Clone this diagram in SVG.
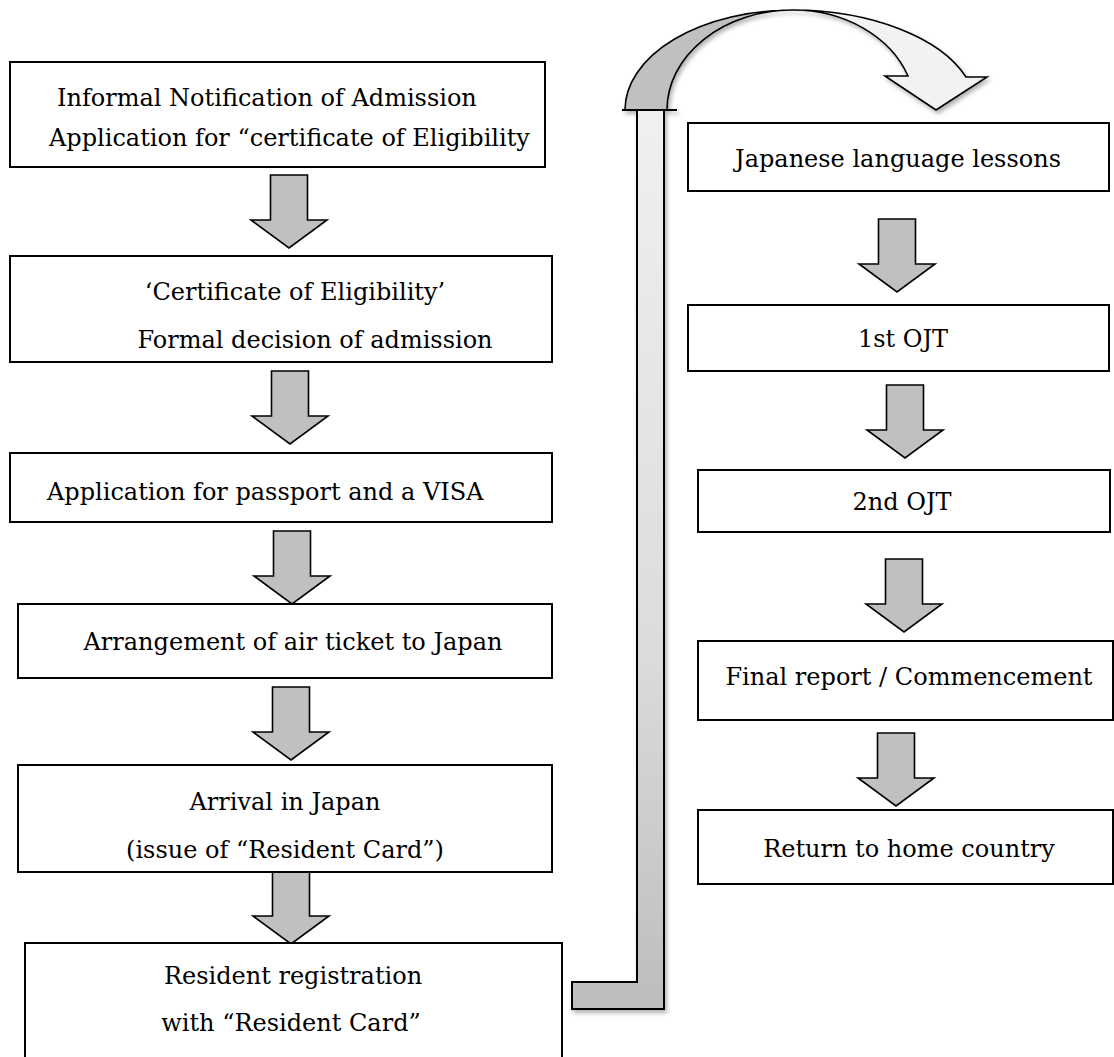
<svg xmlns="http://www.w3.org/2000/svg" width="1114" height="1057" viewBox="0 0 1114 1057">
<style>
.box{fill:#fff;stroke:#000;stroke-width:2}
.t{font-family:"DejaVu Serif","Liberation Serif",serif;font-size:24px;fill:#000}
.c{text-anchor:middle}
.arr{fill:#c0c0c0;stroke:#000;stroke-width:1.6;stroke-linejoin:miter}
</style>
<defs>
<linearGradient id="bar" gradientUnits="userSpaceOnUse" x1="0" y1="110" x2="0" y2="1009">
<stop offset="0" stop-color="#f0f0f0"/>
<stop offset="0.6" stop-color="#dcdcdc"/>
<stop offset="1" stop-color="#bdbdbd"/>
</linearGradient>
<filter id="sh" x="-20%" y="-5%" width="160%" height="110%">
<feDropShadow dx="2" dy="3" stdDeviation="2" flood-color="#000" flood-opacity="0.3"/>
</filter>
<path id="dn" d="M-18.5,0 H18.5 V45 H38 L0,73 L-38,45 H-18.5 Z"/>
</defs>

<g id="connectors">
<use href="#dn" class="arr" transform="translate(289,175)"/>
<use href="#dn" class="arr" transform="translate(290,371)"/>
<use href="#dn" class="arr" transform="translate(292,531)"/>
<use href="#dn" class="arr" transform="translate(291,687)"/>
<use href="#dn" class="arr" transform="translate(291,871)"/>
<use href="#dn" class="arr" transform="translate(897,219)"/>
<use href="#dn" class="arr" transform="translate(905,385)"/>
<use href="#dn" class="arr" transform="translate(904,559)"/>
<use href="#dn" class="arr" transform="translate(896,733)"/>
<g id="loop" filter="url(#sh)">
<path d="M572,982 H637 V110 H664 V1009 H572 Z" fill="url(#bar)" stroke="#000" stroke-width="2"/>
<path d="M625,110 A168,100 0 0 1 793,10 A126,100 0 0 0 667,110 Z" fill="#c0c0c0" stroke="#000" stroke-width="1.6"/>
<path d="M793,10 A185,100 0 0 1 966,77 L987,77 L936,110 L885,76 L908,76 A122,100 0 0 0 793,10 Z" fill="#f2f2f2" stroke="#000" stroke-width="1.6"/>
<line x1="622" y1="110" x2="677" y2="110" stroke="#000" stroke-width="2"/>
</g>
</g>

<g id="n1"><rect class="box" x="10" y="62" width="535" height="105"/>
<text class="t" x="57" y="106">Informal Notification of Admission</text>
<text class="t" x="49" y="146">Application for “certificate of Eligibility</text></g>

<g id="n2"><rect class="box" x="10" y="256" width="542" height="106"/>
<text class="t c" x="295" y="300">‘Certificate of Eligibility’</text>
<text class="t c" x="315" y="348">Formal decision of admission</text></g>

<g id="n3"><rect class="box" x="10" y="453" width="542" height="69"/>
<text class="t" x="47" y="500">Application for passport and a VISA</text></g>

<g id="n4"><rect class="box" x="18" y="604" width="534" height="74"/>
<text class="t c" x="293" y="650">Arrangement of air ticket to Japan</text></g>

<g id="n5"><rect class="box" x="18" y="765" width="534" height="107"/>
<text class="t c" x="285" y="810">Arrival in Japan</text>
<text class="t c" x="285" y="858">(issue of “Resident Card”)</text></g>

<g id="n6"><rect class="box" x="25" y="943" width="537" height="130"/>
<text class="t c" x="293" y="984">Resident registration</text>
<text class="t c" x="291" y="1031">with “Resident Card”</text></g>

<g id="r1"><rect class="box" x="688" y="123" width="421" height="68"/>
<text class="t c" x="898" y="167">Japanese language lessons</text></g>

<g id="r2"><rect class="box" x="688" y="305" width="421" height="66"/>
<text class="t c" x="903" y="347">1st OJT</text></g>

<g id="r3"><rect class="box" x="698" y="470" width="412" height="62"/>
<text class="t c" x="902" y="510">2nd OJT</text></g>

<g id="r4"><rect class="box" x="698" y="641" width="415" height="79"/>
<text class="t c" x="909" y="685">Final report / Commencement</text></g>

<g id="r5"><rect class="box" x="698" y="810" width="415" height="74"/>
<text class="t c" x="909" y="857">Return to home country</text></g>
</svg>
